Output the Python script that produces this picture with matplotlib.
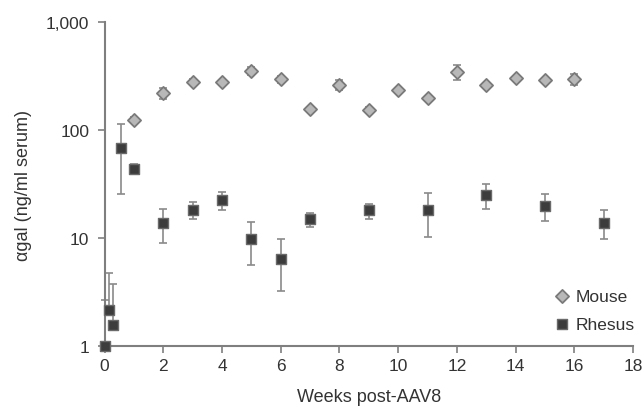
import matplotlib
matplotlib.use("Agg")
import matplotlib.pyplot as plt
import numpy as np
from matplotlib.ticker import FixedLocator, FixedFormatter, NullLocator

plt.rcParams['font.family'] = ['Liberation Sans', 'DejaVu Sans']

# Mouse data
mouse_weeks = [1, 2, 3, 4, 5, 6, 7, 8, 9, 10, 11, 12, 13, 14, 15, 16]
mouse_vals = [124, 220, 281, 279, 352, 295, 156, 263, 155, 235, 198, 348, 261, 303, 289, 299]
mouse_err = [8, 25, 15, 10, 30, 20, 8, 30, 8, 12, 10, 55, 10, 15, 12, 35]

# Rhesus data
rhesus_weeks = [0, 0.14, 0.29, 0.57, 1, 2, 3, 4, 5, 6, 7, 9, 11, 13, 15, 17]
rhesus_vals = [1.0, 2.17, 1.55, 68.5, 43.3, 13.9, 18.3, 22.3, 9.85, 6.42, 15.1, 18.0, 18.3, 24.9, 19.8, 13.9]
rhesus_lo = [1.0, 2.17, 1.55, 25.8, 39.0, 9.0, 15.1, 18.0, 5.57, 3.22, 12.6, 14.9, 10.3, 18.4, 14.3, 9.7]
rhesus_hi = [2.69, 4.76, 3.76, 113, 48.0, 18.7, 21.6, 26.5, 14.1, 9.7, 17.2, 20.5, 26.4, 31.5, 25.4, 18.3]

y_ticks = [1, 10, 100, 1000]
y_ticklabels = ["1", "10", "100", "1,000"]
x_ticks = [0, 2, 4, 6, 8, 10, 12, 14, 16, 18]

fig = plt.figure(figsize=(6.42, 4.14), dpi=100)
ax = fig.add_axes([0.163, 0.162, 0.823, 0.782])

text_color = "#333333"
spine_color = "#7f7f7f"
err_color = "#8a8a8a"

# Mouse
mv = np.array(mouse_vals, dtype=float)
me = np.array(mouse_err, dtype=float)
ax.errorbar(mouse_weeks, mv, yerr=[me, me], fmt='none', ecolor=err_color,
            elinewidth=1.2, capsize=3, capthick=1.2, zorder=2, clip_on=False)
ax.scatter(mouse_weeks, mv, marker='D', s=45, facecolor='#b8b8b8',
           edgecolor='#7a7a7a', linewidth=1.3, zorder=3, clip_on=False, label='Mouse')

# Rhesus
rv = np.array(rhesus_vals, dtype=float)
rlo = rv - np.array(rhesus_lo, dtype=float)
rhi = np.array(rhesus_hi, dtype=float) - rv
ax.errorbar(rhesus_weeks, rv, yerr=[rlo, rhi], fmt='none', ecolor=err_color,
            elinewidth=1.2, capsize=3, capthick=1.2, zorder=2, clip_on=False)
ax.scatter(rhesus_weeks, rv, marker='s', s=60, facecolor='#3c3c3c',
           edgecolor='#6a6a6a', linewidth=1.0, zorder=4, clip_on=False, label='Rhesus')

ax.set_yscale('log')
ax.set_ylim(1, 1000)
ax.set_xlim(0, 18)
ax.yaxis.set_major_locator(FixedLocator(y_ticks))
ax.yaxis.set_major_formatter(FixedFormatter(y_ticklabels))
ax.yaxis.set_minor_locator(NullLocator())
ax.set_xticks(x_ticks)

for s in ['top', 'right']:
    ax.spines[s].set_visible(False)
for s in ['left', 'bottom']:
    ax.spines[s].set_color(spine_color)
    ax.spines[s].set_linewidth(1.5)

ax.tick_params(axis='both', colors=spine_color, labelcolor=text_color,
               labelsize=12.5, length=5, width=1.2, direction='out')
ax.tick_params(axis='y', pad=6)

ax.set_xlabel('Weeks post-AAV8', fontsize=13, color=text_color, labelpad=11)
ax.set_ylabel('\u03b1gal (ng/ml serum)', fontsize=13, color=text_color, labelpad=10)

leg = ax.legend(loc='lower right', bbox_to_anchor=(1.023, 0.011), frameon=False,
                fontsize=12.5, handletextpad=0.2, labelspacing=0.75,
                borderaxespad=0.2, handlelength=1.2)
for t in leg.get_texts():
    t.set_color(text_color)

fig.savefig('out.png', dpi=100)
